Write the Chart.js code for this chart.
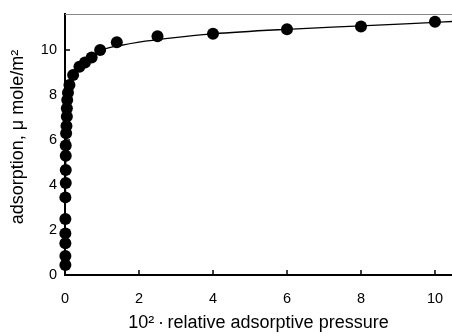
<!DOCTYPE html>
<html>
<head>
<meta charset="utf-8">
<script src="https://cdn.jsdelivr.net/npm/chart.js@4/dist/chart.umd.min.js"></script>
<style>
  body { margin: 0; background: #fff; }
  #wrap { width: 452px; height: 336px; }
</style>
</head>
<body>
<div id="wrap"><canvas id="isoChart" width="452" height="336"></canvas></div>
<script>
// measured points
const pointX = [0.01, 0.01, 0.01, 0.01, 0.01, 0.01, 0.02, 0.02, 0.02, 0.02, 0.03, 0.04, 0.05, 0.05, 0.06, 0.08, 0.12,
                0.22, 0.39, 0.54, 0.72, 0.95, 1.4, 2.5, 4.0, 6.0, 8.0, 10.0];
const pointY = [0.44, 0.84, 1.41, 1.85, 2.49, 3.45, 4.09, 4.67, 5.3, 5.76, 6.3, 6.62, 7.04, 7.41, 7.78, 8.1, 8.44,
                8.89, 9.26, 9.44, 9.67, 10.0, 10.34, 10.61, 10.72, 10.92, 11.04, 11.26];

// fitted curve
const curveX = [0, 0.01, 0.03, 0.07, 0.12, 0.2, 0.35, 0.55, 0.8, 1.0, 1.5, 2.0, 2.84, 4, 6, 8, 10, 10.5];
const curveY = [0, 3, 6.5, 8.0, 8.5, 8.8, 9.15, 9.45, 9.8, 10.0, 10.2, 10.35, 10.53, 10.72, 10.92, 11.07, 11.23, 11.27];

const xTicks = [0, 2, 4, 6, 8, 10];
const yTicks = [0, 2, 4, 6, 8, 10];

const family = '"Liberation Sans", Arial, sans-serif';

// inward ticks + grey top line
const frame = {
    id: 'frame',
    afterDraw(chart) {
        const { ctx, chartArea: a, scales: { x, y } } = chart;
        ctx.save();
        ctx.strokeStyle = '#000';
        ctx.lineWidth = 1.5;
        ctx.beginPath();
        xTicks.forEach(v => {
            const px = Math.round(x.getPixelForValue(v));
            ctx.moveTo(px, a.bottom);
            ctx.lineTo(px, a.bottom - 5);
        });
        yTicks.forEach(v => {
            const py = Math.round(y.getPixelForValue(v));
            ctx.moveTo(a.left, py);
            ctx.lineTo(a.left + 5, py);
        });
        ctx.stroke();
        ctx.strokeStyle = '#888';
        ctx.lineWidth = 1;
        ctx.beginPath();
        ctx.moveTo(a.left, a.top + 0.5);
        ctx.lineTo(a.right, a.top + 0.5);
        ctx.stroke();
        ctx.restore();
    }
};

const ctx = document.getElementById('isoChart').getContext('2d');
new Chart(ctx, {
    type: 'scatter',
    data: {
        datasets: [{
            label: 'fit',
            data: curveX.map((v, i) => ({ x: v, y: curveY[i] })),
            showLine: true,
            borderColor: '#000',
            borderWidth: 1.3,
            pointRadius: 0,
            cubicInterpolationMode: 'monotone',
            clip: false
        }, {
            label: 'data',
            data: pointX.map((v, i) => ({ x: v, y: pointY[i] })),
            backgroundColor: '#000',
            borderColor: '#000',
            borderWidth: 0,
            pointRadius: 6,
            clip: false
        }]
    },
    options: {
        responsive: false,
        animation: false,
        layout: { autoPadding: false, padding: { top: 14, right: 0, left: 0, bottom: 0 } },
        plugins: { legend: { display: false }, tooltip: { enabled: false } },
        scales: {
            x: {
                type: 'linear',
                min: 0,
                max: 10.46,
                afterFit: s => { s.height = 61; s.paddingLeft = 0; s.paddingRight = 0; },
                afterBuildTicks: s => { s.ticks = xTicks.map(v => ({ value: v })); },
                grid: { display: true, drawOnChartArea: false, drawTicks: false },
                border: { color: '#000', width: 2 },
                ticks: { color: '#000', font: { family: family, size: 14.5 }, padding: 15, maxRotation: 0 },
                title: {
                    display: true,
                    text: '10²\u2009·\u2009relative adsorptive pressure',
                    color: '#000',
                    font: { family: family, size: 18 },
                    padding: { bottom: 2.5 }
                }
            },
            y: {
                type: 'linear',
                min: 0,
                max: 11.6,
                afterFit: s => { s.width = 65; s.paddingTop = 0; s.paddingBottom = 0; },
                afterBuildTicks: s => { s.ticks = yTicks.map(v => ({ value: v })); },
                grid: { display: true, drawOnChartArea: false, drawTicks: false },
                border: { color: '#000', width: 2 },
                ticks: { color: '#000', font: { family: family, size: 14.5 }, padding: 8 },
                title: {
                    display: true,
                    text: '   adsorption, μ mole/m²',
                    color: '#000',
                    font: { family: family, size: 18 },
                    padding: { top: 7 }
                }
            }
        }
    },
    plugins: [frame]
});
</script>
</body>
</html>
